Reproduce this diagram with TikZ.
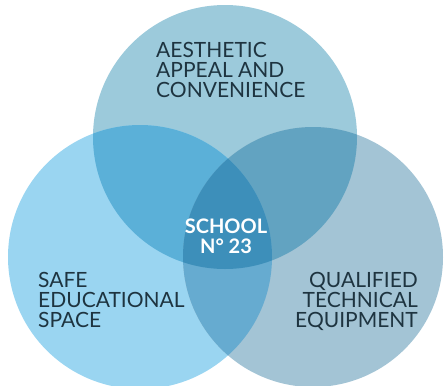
\documentclass[tikz,border=0pt]{standalone}
\usepackage{fontspec}
\setmainfont{Lato}
\definecolor{topcol}{HTML}{9CCADB}
\definecolor{leftcol}{HTML}{9AD5F1}
\definecolor{rightcol}{HTML}{A3C4D5}
\definecolor{tlcol}{HTML}{5BB0D8}
\definecolor{trcol}{HTML}{62A3C1}
\definecolor{lrcol}{HTML}{66ABD0}
\definecolor{midcol}{HTML}{3D8FBA}
\definecolor{textcol}{HTML}{1E3440}
\tikzset{
	area/.style = {inner sep = 0pt, font = \fontsize{21}{20}\selectfont, text = textcol},
	core/.style = {inner sep = 0pt, font = \fontsize{20}{20}\bfseries\selectfont, text = white, align = center}
}

\begin{document}
\begin{tikzpicture}[x=1pt, y=-1pt]
	\useasboundingbox (0,0) rectangle (445,386);
	% centres of the three sets
	\coordinate (T) at (225,137);
	\coordinate (L) at (140,257);
	\coordinate (R) at (313,257);

	\fill [topcol]   (T) circle (132pt);
	\fill [leftcol]  (L) circle (132pt);
	\fill [rightcol] (R) circle (130pt);

	% overlaps
	\begin{scope}
		\clip (T) circle (132pt);
		\fill [tlcol] (L) circle (132pt);
		\fill [trcol] (R) circle (130pt);
	\end{scope}
	\begin{scope}
		\clip (L) circle (132pt);
		\fill [lrcol] (R) circle (130pt);
		\clip (R) circle (130pt);
		\fill [midcol] (T) circle (132pt);
	\end{scope}

	% labels, placed by the baseline of their last line
	\node [area, anchor = base west, align = left] (aesthetic) at (156,97)
		{AESTHETIC\\APPEAL AND\\CONVENIENCE};
	\node [area, anchor = base west, align = left] (safe) at (38,327)
		{SAFE\\EDUCATIONAL\\SPACE};
	\node [area, anchor = base east, align = right] (qualified) at (418,327)
		{QUALIFIED\\TECHNICAL\\EQUIPMENT};
	\node [core, anchor = base] (school) at (226,253) {SCHOOL\\N° 23};
\end{tikzpicture}
\end{document}
